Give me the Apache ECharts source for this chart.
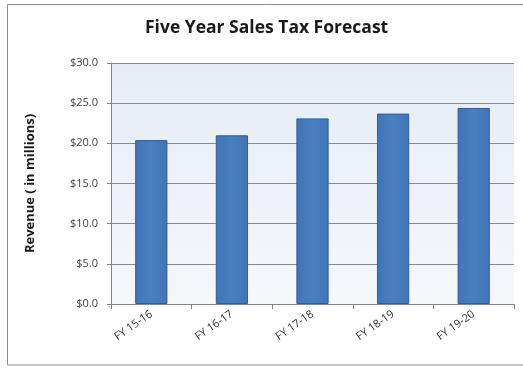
<!DOCTYPE html>
<html>
<head>
<meta charset="utf-8">
<script src="https://cdn.jsdelivr.net/npm/echarts@6/dist/echarts.min.js"></script>
<style>
  html, body { margin: 0; padding: 0; background: #ffffff; }
  #chart { width: 523px; height: 368px; }
</style>
</head>
<body>
<div id="chart"></div>
<script>
// Fiscal years and forecast revenue (millions of dollars)
const fiscalYears = ['FY 15-16', 'FY 16-17', 'FY 17-18', 'FY 18-19', 'FY 19-20'];
const revenue = [20.4, 21.0, 23.1, 23.7, 24.4];
const yTicks = [0, 5, 10, 15, 20, 25, 30];

const chart = echarts.init(document.getElementById('chart'), null, { renderer: 'canvas' });
const font = '"Open Sans", "Liberation Sans", sans-serif';

chart.setOption({
  animation: false,
  backgroundColor: '#ffffff',
  title: {
    text: 'Five Year Sales Tax Forecast',
    left: 145,
    top: 19,
    padding: 0,
    textStyle: { fontFamily: font, fontSize: 17.5, fontWeight: 'bold', color: '#1a1a1a' }
  },
  graphic: [{
    type: 'rect',
    shape: { x: 7.5, y: 4.5, width: 530, height: 360.5 },
    style: { fill: 'none', stroke: '#8c8c8c', lineWidth: 1 },
    silent: true, z: -1
  }],
  grid: {
    left: 111, right: 9, top: 63, bottom: 64,
    show: true,
    borderWidth: 0,
    backgroundColor: new echarts.graphic.LinearGradient(0, 0, 0, 1, [
      { offset: 0, color: '#e6ecf5' },
      { offset: 1, color: '#f5f7fb' }
    ])
  },
  xAxis: {
    type: 'category',
    data: fiscalYears,
    axisLine: { lineStyle: { color: '#868686' } },
    axisTick: { show: true, alignWithLabel: false, length: 5, lineStyle: { color: '#868686' } },
    axisLabel: {
      rotate: 35,
      margin: 9,
      fontFamily: font,
      fontSize: 11,
      color: '#333333'
    }
  },
  yAxis: {
    type: 'value',
    min: yTicks[0],
    max: yTicks[yTicks.length - 1],
    interval: yTicks[1] - yTicks[0],
    name: 'Revenue ( in millions)',
    nameLocation: 'middle',
    nameGap: 74,
    nameTextStyle: { fontFamily: font, fontSize: 13, fontWeight: 'bold', color: '#1a1a1a' },
    axisLine: { show: true, lineStyle: { color: '#868686' } },
    axisTick: { show: true, length: 4, lineStyle: { color: '#868686' } },
    splitLine: { show: true, lineStyle: { color: '#8a8a8a', width: 1 } },
    axisLabel: {
      margin: 13,
      fontFamily: font,
      fontSize: 11,
      color: '#444444',
      formatter: v => '$' + v.toFixed(1)
    }
  },
  series: [{
    type: 'bar',
    data: revenue,
    barWidth: '40%',
    itemStyle: {
      color: new echarts.graphic.LinearGradient(0, 0, 1, 0, [
        { offset: 0, color: '#3f74b6' },
        { offset: 0.5, color: '#4a80c2' },
        { offset: 1, color: '#3f74b6' }
      ]),
      borderColor: '#2f5f99',
      borderWidth: 1
    }
  }]
});
</script>
</body>
</html>
